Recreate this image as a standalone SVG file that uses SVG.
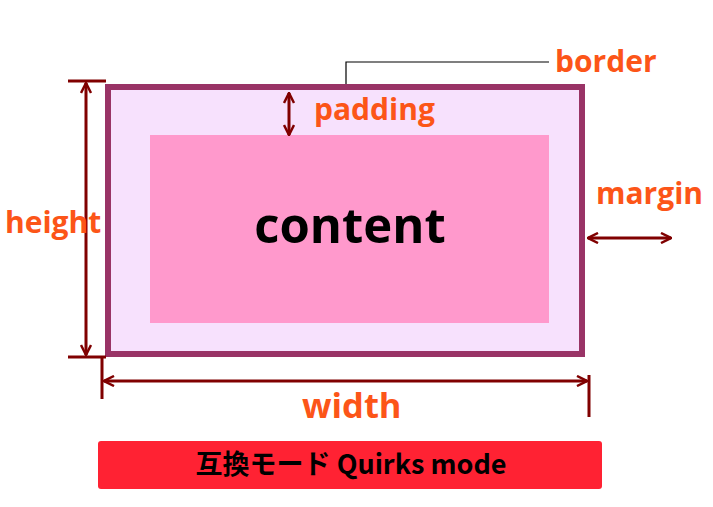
<svg xmlns="http://www.w3.org/2000/svg" width="713" height="507" viewBox="0 0 713 507">
<style>
.lbl{font-family:"Open Sans","Noto Sans","Liberation Sans",sans-serif;font-weight:bold;fill:#fc5518;font-size:30px}
.dim{stroke:#800000;stroke-width:3;fill:none}
</style>
<defs>
<marker id="ah" viewBox="0 0 12 12" refX="11" refY="6" markerWidth="12" markerHeight="12" markerUnits="userSpaceOnUse" orient="auto-start-reverse">
<path d="M1,1 L11,6 L1,11" fill="none" stroke="#800000" stroke-width="2.5"/>
</marker>
</defs>
<rect width="713" height="507" fill="#ffffff"/>
<g id="box">
<rect x="108" y="87" width="474" height="267" fill="#f7e1fd" stroke="#993366" stroke-width="6"/>
</g>
<g id="content">
<rect x="150" y="135" width="399" height="188" fill="#ff99cc"/>
<text x="350" y="243" text-anchor="middle" font-family="'Open Sans','Noto Sans','Liberation Sans',sans-serif" font-weight="bold" font-size="49" fill="#000">content</text>
</g>
<g id="connectors">
<path d="M346,84 V62 H549" stroke="#000" stroke-width="1.2" fill="none"/>
<path class="dim" d="M68,81 H106 M68,357 H106"/>
<path class="dim" d="M86,83 V355" marker-start="url(#ah)" marker-end="url(#ah)"/>
<path class="dim" d="M102,358 V399 M589,375 V417"/>
<path class="dim" d="M104,381 H587" marker-start="url(#ah)" marker-end="url(#ah)"/>
<path class="dim" d="M289,93 V135" marker-start="url(#ah)" marker-end="url(#ah)"/>
<path class="dim" d="M588,238 H671" marker-start="url(#ah)" marker-end="url(#ah)"/>
</g>
<g id="labels">
<text class="lbl" x="555" y="72">border</text>
<text class="lbl" x="314" y="120">padding</text>
<text class="lbl" x="596" y="204">margin</text>
<text class="lbl" x="5" y="233">height</text>
<text class="lbl" x="302" y="418" style="font-size:34.5px">width</text>
</g>
<g id="mode">
<rect x="98" y="441" width="504" height="48" rx="3" fill="#ff2233"/>
<text x="351" y="474" text-anchor="middle" font-family="'Noto Sans CJK JP','Noto Sans',sans-serif" font-weight="bold" font-size="27" fill="#000">互換モード Quirks mode</text>
</g>
</svg>
